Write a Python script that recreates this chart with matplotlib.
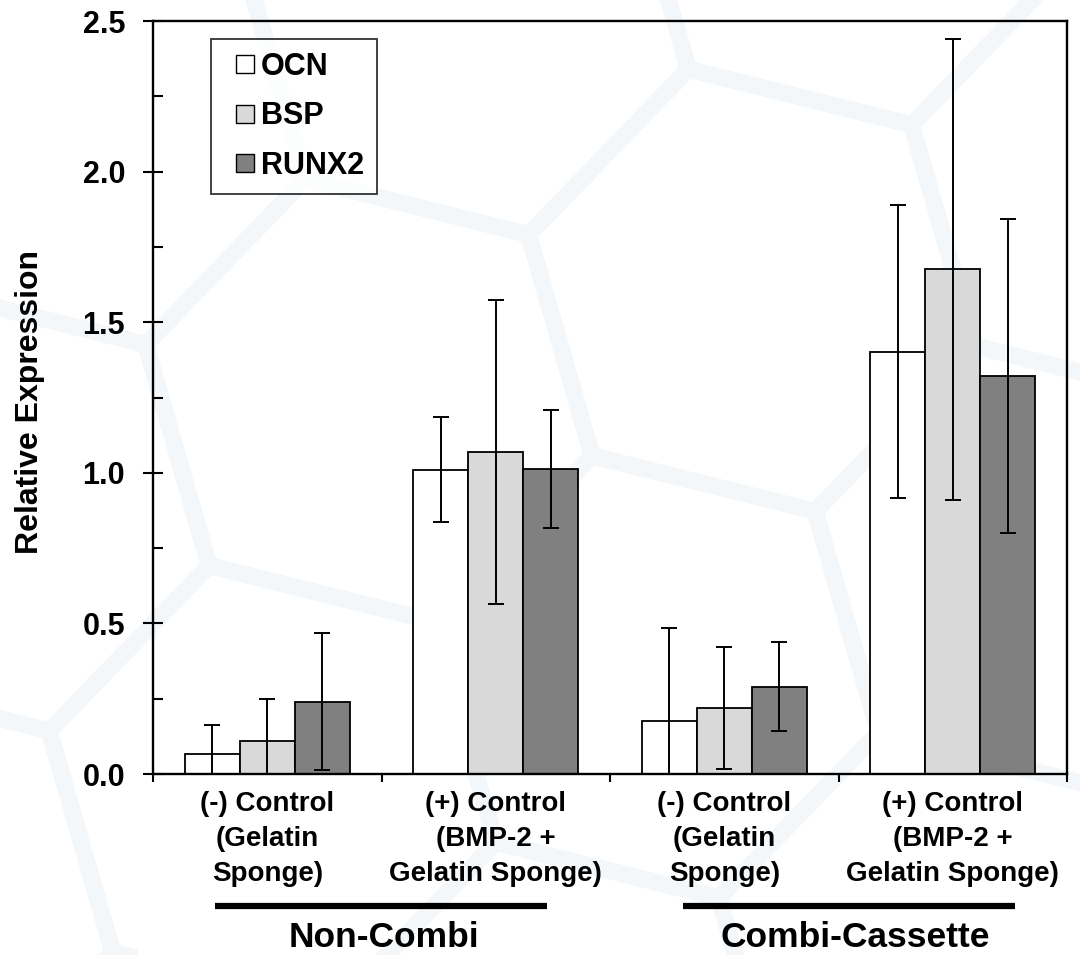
import numpy as np
import matplotlib
matplotlib.use("Agg")
import matplotlib.pyplot as plt
from matplotlib.lines import Line2D

# Data
categories = ["(-) Control\n(Gelatin\nSponge)", "(+) Control\n(BMP-2 +\nGelatin Sponge)",
              "(-) Control\n(Gelatin\nSponge)", "(+) Control\n(BMP-2 +\nGelatin Sponge)"]
groups = ["Non-Combi", "Combi-Cassette"]
series = ["OCN", "BSP", "RUNX2"]
ocn = [0.066, 1.01, 0.176, 1.402]
ocn_err = [0.096, 0.175, 0.308, 0.487]
bsp = [0.11, 1.07, 0.218, 1.676]
bsp_err = [0.138, 0.505, 0.203, 0.765]
runx2 = [0.24, 1.012, 0.29, 1.321]
runx2_err = [0.228, 0.195, 0.147, 0.52]

values = [ocn, bsp, runx2]
errors = [ocn_err, bsp_err, runx2_err]
colors = ["#ffffff", "#d9d9d9", "#808080"]

plt.rcParams["font.family"] = ["Liberation Sans", "DejaVu Sans"]
plt.rcParams["font.weight"] = "bold"

W, H = 1080, 955
fig = plt.figure(figsize=(W / 100, H / 100), dpi=100)
fig.patch.set_facecolor("white")

# faint honeycomb backdrop
bg = fig.add_axes([0, 0, 1, 1], zorder=-10)
bg.set_xlim(0, W)
bg.set_ylim(H, 0)
bg.axis("off")
R = 230.0
rot = np.deg2rad(14)
cx0, cy0 = 800.0, 97.0
for i in range(-4, 5):
    for j in range(-4, 5):
        hx = cx0 + R * 1.5 * i
        hy = cy0 + R * np.sqrt(3) * (j + 0.5 * (i % 2)) + R * np.sqrt(3) / 2
        ang = np.deg2rad(np.arange(0, 361, 60))
        px = hx + R * np.cos(ang)
        py = hy + R * np.sin(ang)
        rx = cx0 + (px - cx0) * np.cos(rot) - (py - cy0) * np.sin(rot)
        ry = cy0 + (px - cx0) * np.sin(rot) + (py - cy0) * np.cos(rot)
        bg.plot(rx, ry, color="#f4f7f9", lw=12, solid_joinstyle="round", zorder=0)

ax = fig.add_axes([153 / W, 1 - 774 / H, (1067 - 153) / W, (774 - 21) / H])
ax.patch.set_alpha(0)

x = np.arange(len(categories))
bw = 0.24
for k, (vals, errs, col, name) in enumerate(zip(values, errors, colors, series)):
    pos = x + (k - 1) * bw
    ax.bar(pos, vals, width=bw, color=col, edgecolor="black", linewidth=1.3,
           label=name, zorder=2)
    ax.errorbar(pos, vals, yerr=errs, fmt="none", ecolor="black", elinewidth=1.4,
                capsize=5.5, capthick=1.4, zorder=3)

ax.set_xlim(-0.5, 3.5)
ax.set_ylim(0, 2.5)
for s in ax.spines.values():
    s.set_linewidth(1.7)

ax.set_yticks(np.arange(0, 2.51, 0.5))
ax.set_yticklabels([f"{v:.1f}" for v in np.arange(0, 2.51, 0.5)],
                   fontsize=22, fontweight="bold")
ax.set_yticks(np.arange(0.25, 2.5, 0.5), minor=True)
ax.tick_params(axis="y", which="major", direction="inout", length=14, width=1.5, pad=13)
ax.tick_params(axis="y", which="minor", direction="in", length=7, width=1.5)

ax.set_xticks(x)
ax.set_xticklabels(categories, fontsize=20, fontweight="bold", linespacing=1.45)
ax.set_xticks(np.arange(-0.5, 3.6, 1.0), minor=True)
ax.tick_params(axis="x", which="major", length=0, pad=12)
ax.tick_params(axis="x", which="minor", direction="out", length=6, width=1.5)

fig.text(30 / W, 1 - 402 / H, "Relative Expression", rotation=90, ha="center",
         va="center", fontsize=23, fontweight="bold")

handles = [Line2D([], [], linestyle="none", marker="s", markersize=13,
                  markerfacecolor=c, markeredgecolor="black", markeredgewidth=1.0)
           for c in colors]
leg = ax.legend(handles, series, loc="upper left",
                bbox_to_anchor=(211 / W, 1 - 39 / H), bbox_transform=fig.transFigure,
                prop={"size": 22, "weight": "bold"}, frameon=True, fancybox=False,
                edgecolor="black", handlelength=1.37, handleheight=0.7,
                handletextpad=-0.16, labelspacing=0.64, borderpad=0.42,
                borderaxespad=0)
leg.get_frame().set_linewidth(1.3)

# group underlines and names
for (x0, x1, name, xc) in [(215, 547, groups[0], 384), (683, 1015, groups[1], 855)]:
    fig.add_artist(Line2D([x0 / W, x1 / W], [1 - 906 / H, 1 - 906 / H],
                          color="black", lw=4.5, solid_capstyle="butt"))
    fig.text(xc / W, 1 - 947 / H, name, ha="center", va="baseline", fontsize=25.5,
             fontweight="bold")

fig.savefig("out.png", dpi=100)
